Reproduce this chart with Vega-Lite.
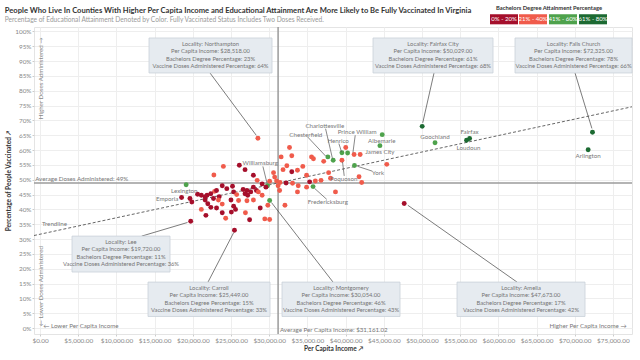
{
  "$schema": "https://vega.github.io/schema/vega-lite/v6.json",
  "width": 598,
  "height": 307,
  "autosize": {"type": "none"},
  "padding": {"left": 34, "top": 27, "right": 8, "bottom": 26},
  "background": "white",
  "title": {
    "text": "People Who Live In Counties With Higher Per Capita Income and Educational Attainment Are More Likely to Be Fully Vaccinated In Virginia",
    "subtitle": "Percentage of Educational Attainment Denoted by Color. Fully Vaccinated Status Includes Two Doses Received.",
    "anchor": "start",
    "dx": -1,
    "offset": -19,
    "font": "Lato",
    "fontSize": 7.6,
    "fontWeight": "bold",
    "color": "#333333",
    "subtitleFont": "Lato",
    "subtitleFontSize": 6.6,
    "subtitleColor": "#999999",
    "subtitlePadding": 2.5
  },
  "config": {
    "view": {"stroke": "#e4e4e4"},
    "axis": {
      "labelFont": "Lato",
      "labelFontSize": 6.4,
      "labelColor": "#888888",
      "labelOverlap": false,
      "gridColor": "#eeeeee",
      "domain": false,
      "tickColor": "#cccccc",
      "tickSize": 2,
      "labelPadding": 1,
      "titleFont": "Lato",
      "titleFontSize": 6.5,
      "titleColor": "#333333",
      "titleFontWeight": "bold"
    },
    "text": {"font": "Lato"},
    "legend": {
      "orient": "none",
      "legendX": 456,
      "legendY": -22,
      "direction": "horizontal",
      "columns": 4,
      "columnPadding": 0,
      "symbolType": "M-1,-0.36H1V0.36H-1Z",
      "symbolSize": 784,
      "symbolStrokeWidth": 0,
      "symbolOpacity": 1,
      "labelOffset": -14,
      "labelAlign": "center",
      "labelColor": "white",
      "labelFont": "Lato",
      "labelFontSize": 6,
      "labelLimit": 0,
      "titleFont": "Lato",
      "titleFontSize": 5.8,
      "titleFontWeight": "bold",
      "titleColor": "#333333",
      "titleAnchor": "middle",
      "titlePadding": -6
    }
  },
  "datasets": {
    "pts": [
      {"loc": "Northampton", "inc": 28518, "vax": 64, "bach": "21% - 40%"},
      {"loc": "Fairfax City", "inc": 50029, "vax": 68, "bach": "61% - 80%"},
      {"loc": "Albemarle", "inc": 44793, "vax": 65.2, "bach": "41% - 60%"},
      {"loc": "", "inc": 32654, "vax": 60.9, "bach": "21% - 40%"},
      {"loc": "", "inc": 40017, "vax": 60.9, "bach": "21% - 40%"},
      {"loc": "James City", "inc": 44494, "vax": 61.5, "bach": "41% - 60%"},
      {"loc": "Goochland", "inc": 51708, "vax": 62.5, "bach": "41% - 60%"},
      {"loc": "Loudoun", "inc": 55837, "vax": 63.3, "bach": "61% - 80%"},
      {"loc": "Fairfax", "inc": 56235, "vax": 63.9, "bach": "61% - 80%"},
      {"loc": "Falls Church", "inc": 72325, "vax": 66, "bach": "61% - 80%"},
      {"loc": "Arlington", "inc": 71757, "vax": 60.1, "bach": "61% - 80%"},
      {"loc": "Henrico", "inc": 39519, "vax": 59.1, "bach": "41% - 60%"},
      {"loc": "", "inc": 40265, "vax": 59.0, "bach": "41% - 60%"},
      {"loc": "Prince William", "inc": 41111, "vax": 58.5, "bach": "21% - 40%"},
      {"loc": "", "inc": 31559, "vax": 57.7, "bach": "21% - 40%"},
      {"loc": "", "inc": 32952, "vax": 58.1, "bach": "21% - 40%"},
      {"loc": "", "inc": 35539, "vax": 57.7, "bach": "21% - 40%"},
      {"loc": "", "inc": 35788, "vax": 57.1, "bach": "21% - 40%"},
      {"loc": "", "inc": 37131, "vax": 56.2, "bach": "21% - 40%"},
      {"loc": "Chesterfield", "inc": 37678, "vax": 57.7, "bach": "41% - 60%"},
      {"loc": "Charlottesville", "inc": 38375, "vax": 56.6, "bach": "41% - 60%"},
      {"loc": "Poquoson", "inc": 39519, "vax": 56.6, "bach": "21% - 40%"},
      {"loc": "", "inc": 41908, "vax": 58.5, "bach": "21% - 40%"},
      {"loc": "", "inc": 45390, "vax": 55.2, "bach": "21% - 40%"},
      {"loc": "York", "inc": 41161, "vax": 54.8, "bach": "41% - 60%"},
      {"loc": "", "inc": 23997, "vax": 54.5, "bach": "21% - 40%"},
      {"loc": "", "inc": 26087, "vax": 54.9, "bach": "0% - 20%"},
      {"loc": "", "inc": 26833, "vax": 53.4, "bach": "0% - 20%"},
      {"loc": "", "inc": 32305, "vax": 54.7, "bach": "21% - 40%"},
      {"loc": "", "inc": 34395, "vax": 54.5, "bach": "21% - 40%"},
      {"loc": "", "inc": 33698, "vax": 53.2, "bach": "21% - 40%"},
      {"loc": "", "inc": 31808, "vax": 53.4, "bach": "21% - 40%"},
      {"loc": "", "inc": 30564, "vax": 52.4, "bach": "21% - 40%"},
      {"loc": "", "inc": 32952, "vax": 52.7, "bach": "0% - 20%"},
      {"loc": "", "inc": 37778, "vax": 52.4, "bach": "21% - 40%"},
      {"loc": "", "inc": 22753, "vax": 51.6, "bach": "21% - 40%"},
      {"loc": "", "inc": 27927, "vax": 51.5, "bach": "0% - 20%"},
      {"loc": "", "inc": 34892, "vax": 51.5, "bach": "21% - 40%"},
      {"loc": "", "inc": 30713, "vax": 50.9, "bach": "21% - 40%"},
      {"loc": "", "inc": 38027, "vax": 50.5, "bach": "21% - 40%"},
      {"loc": "", "inc": 41758, "vax": 51.0, "bach": "21% - 40%"},
      {"loc": "", "inc": 28425, "vax": 49.8, "bach": "21% - 40%"},
      {"loc": "", "inc": 30054, "vax": 49.5, "bach": "21% - 40%"},
      {"loc": "", "inc": 30962, "vax": 49.6, "bach": "21% - 40%"},
      {"loc": "", "inc": 31410, "vax": 49.1, "bach": "21% - 40%"},
      {"loc": "", "inc": 32206, "vax": 48.9, "bach": "0% - 20%"},
      {"loc": "", "inc": 33052, "vax": 48.8, "bach": "21% - 40%"},
      {"loc": "", "inc": 35290, "vax": 49.3, "bach": "0% - 20%"},
      {"loc": "", "inc": 36037, "vax": 49.6, "bach": "21% - 40%"},
      {"loc": "", "inc": 36783, "vax": 49.8, "bach": "21% - 40%"},
      {"loc": "", "inc": 42106, "vax": 49.1, "bach": "21% - 40%"},
      {"loc": "", "inc": 29072, "vax": 48.6, "bach": "0% - 20%"},
      {"loc": "Williamsburg", "inc": 29768, "vax": 48.0, "bach": "41% - 60%"},
      {"loc": "Lexington", "inc": 19121, "vax": 48.3, "bach": "41% - 60%"},
      {"loc": "", "inc": 23848, "vax": 48.0, "bach": "0% - 20%"},
      {"loc": "", "inc": 31161, "vax": 48.0, "bach": "21% - 40%"},
      {"loc": "", "inc": 33798, "vax": 48.0, "bach": "21% - 40%"},
      {"loc": "Fredericksburg", "inc": 35738, "vax": 47.7, "bach": "41% - 60%"},
      {"loc": "", "inc": 34892, "vax": 47.5, "bach": "21% - 40%"},
      {"loc": "", "inc": 29569, "vax": 47.5, "bach": "0% - 20%"},
      {"loc": "", "inc": 27927, "vax": 47.5, "bach": "0% - 20%"},
      {"loc": "", "inc": 25191, "vax": 47.8, "bach": "0% - 20%"},
      {"loc": "", "inc": 24445, "vax": 47.0, "bach": "0% - 20%"},
      {"loc": "", "inc": 26584, "vax": 46.7, "bach": "0% - 20%"},
      {"loc": "", "inc": 27082, "vax": 46.4, "bach": "0% - 20%"},
      {"loc": "", "inc": 28325, "vax": 46.4, "bach": "0% - 20%"},
      {"loc": "", "inc": 22852, "vax": 46.1, "bach": "21% - 40%"},
      {"loc": "", "inc": 23101, "vax": 46.4, "bach": "0% - 20%"},
      {"loc": "", "inc": 33698, "vax": 45.9, "bach": "21% - 40%"},
      {"loc": "", "inc": 31360, "vax": 46.4, "bach": "21% - 40%"},
      {"loc": "", "inc": 38673, "vax": 45.9, "bach": "21% - 40%"},
      {"loc": "", "inc": 25340, "vax": 45.9, "bach": "0% - 20%"},
      {"loc": "", "inc": 27579, "vax": 45.9, "bach": "0% - 20%"},
      {"loc": "", "inc": 28574, "vax": 45.9, "bach": "21% - 40%"},
      {"loc": "", "inc": 20614, "vax": 45.1, "bach": "0% - 20%"},
      {"loc": "", "inc": 21111, "vax": 44.8, "bach": "0% - 20%"},
      {"loc": "", "inc": 21858, "vax": 44.8, "bach": "0% - 20%"},
      {"loc": "", "inc": 22355, "vax": 45.3, "bach": "0% - 20%"},
      {"loc": "", "inc": 21609, "vax": 44.3, "bach": "0% - 20%"},
      {"loc": "", "inc": 25738, "vax": 45.0, "bach": "21% - 40%"},
      {"loc": "", "inc": 26833, "vax": 45.3, "bach": "0% - 20%"},
      {"loc": "", "inc": 27181, "vax": 44.8, "bach": "0% - 20%"},
      {"loc": "", "inc": 29072, "vax": 44.8, "bach": "21% - 40%"},
      {"loc": "", "inc": 23449, "vax": 44.3, "bach": "0% - 20%"},
      {"loc": "", "inc": 19619, "vax": 43.7, "bach": "0% - 20%"},
      {"loc": "Emporia", "inc": 18524, "vax": 44.0, "bach": "0% - 20%"},
      {"loc": "", "inc": 22703, "vax": 43.7, "bach": "0% - 20%"},
      {"loc": "Montgomery", "inc": 30054, "vax": 43, "bach": "41% - 60%"},
      {"loc": "", "inc": 19868, "vax": 42.5, "bach": "0% - 20%"},
      {"loc": "", "inc": 21609, "vax": 43.2, "bach": "0% - 20%"},
      {"loc": "", "inc": 23350, "vax": 43.2, "bach": "21% - 40%"},
      {"loc": "", "inc": 24992, "vax": 43.2, "bach": "0% - 20%"},
      {"loc": "", "inc": 25987, "vax": 43.0, "bach": "21% - 40%"},
      {"loc": "", "inc": 27082, "vax": 42.9, "bach": "21% - 40%"},
      {"loc": "", "inc": 27927, "vax": 43.2, "bach": "21% - 40%"},
      {"loc": "", "inc": 21957, "vax": 41.9, "bach": "0% - 20%"},
      {"loc": "", "inc": 23848, "vax": 41.8, "bach": "21% - 40%"},
      {"loc": "", "inc": 25340, "vax": 41.1, "bach": "0% - 20%"},
      {"loc": "", "inc": 28823, "vax": 40.5, "bach": "0% - 20%"},
      {"loc": "", "inc": 29818, "vax": 41.4, "bach": "21% - 40%"},
      {"loc": "", "inc": 32057, "vax": 41.4, "bach": "21% - 40%"},
      {"loc": "Amelia", "inc": 47673, "vax": 42, "bach": "0% - 20%"},
      {"loc": "", "inc": 21111, "vax": 40.0, "bach": "21% - 40%"},
      {"loc": "", "inc": 22355, "vax": 40.7, "bach": "0% - 20%"},
      {"loc": "", "inc": 23101, "vax": 40.5, "bach": "0% - 20%"},
      {"loc": "", "inc": 25589, "vax": 40.0, "bach": "0% - 20%"},
      {"loc": "", "inc": 26883, "vax": 38.9, "bach": "21% - 40%"},
      {"loc": "", "inc": 25042, "vax": 39.1, "bach": "0% - 20%"},
      {"loc": "", "inc": 23848, "vax": 38.9, "bach": "0% - 20%"},
      {"loc": "", "inc": 21708, "vax": 38.0, "bach": "0% - 20%"},
      {"loc": "", "inc": 24296, "vax": 37.0, "bach": "21% - 40%"},
      {"loc": "", "inc": 27430, "vax": 36.5, "bach": "0% - 20%"},
      {"loc": "", "inc": 29420, "vax": 36.8, "bach": "21% - 40%"},
      {"loc": "", "inc": 30054, "vax": 36.6, "bach": "21% - 40%"},
      {"loc": "Lee", "inc": 19720, "vax": 36, "bach": "0% - 20%"},
      {"loc": "Carroll", "inc": 25449, "vax": 33, "bach": "0% - 20%"}
    ],
    "labels": [
      {"t": "Charlottesville", "inc": 37280, "vax": 68.2},
      {"t": "Chesterfield", "inc": 34793, "vax": 65.2},
      {"t": "Henrico", "inc": 39022, "vax": 63.1},
      {"t": "Prince William", "inc": 41509, "vax": 66.0},
      {"t": "Albemarle", "inc": 44743, "vax": 63.1},
      {"t": "James City", "inc": 44494, "vax": 59.3},
      {"t": "Goochland", "inc": 51708, "vax": 64.4},
      {"t": "Fairfax", "inc": 56235, "vax": 66.1},
      {"t": "Loudoun", "inc": 56086, "vax": 60.6},
      {"t": "Arlington", "inc": 71757, "vax": 57.9},
      {"t": "York", "inc": 44245, "vax": 52.4},
      {"t": "Poquoson", "inc": 39768, "vax": 50.4},
      {"t": "Williamsburg", "inc": 28823, "vax": 55.6},
      {"t": "Lexington", "inc": 18873, "vax": 46.1},
      {"t": "Emporia", "inc": 16634, "vax": 43.5},
      {"t": "Fredericksburg", "inc": 37678, "vax": 42.4}
    ],
    "leaders": [
      {"inc": 37380, "vax": 67.2, "inc2": 38276, "vax2": 57.2},
      {"inc": 35041, "vax": 64.4, "inc2": 37380, "vax2": 58.0},
      {"inc": 39121, "vax": 62.2, "inc2": 39469, "vax2": 59.4},
      {"inc": 41260, "vax": 65.0, "inc2": 40962, "vax2": 59.2},
      {"inc": 43499, "vax": 52.9, "inc2": 41608, "vax2": 54.5},
      {"inc": 39818, "vax": 51.3, "inc2": 39600, "vax2": 56.0},
      {"inc": 29171, "vax": 54.5, "inc2": 29718, "vax2": 48.8},
      {"inc": 37529, "vax": 43.4, "inc2": 35937, "vax2": 47.1}
    ],
    "arrows": [
      {"inc": 22246, "vax": 86.0, "inc2": 28300, "vax2": 65.0},
      {"inc": 51577, "vax": 86.0, "inc2": 50100, "vax2": 69.2},
      {"inc": 70040, "vax": 86.0, "inc2": 72250, "vax2": 67.3},
      {"inc": 13300, "vax": 31.0, "inc2": 19300, "vax2": 35.6},
      {"inc": 21983, "vax": 15.5, "inc2": 25350, "vax2": 32.2},
      {"inc": 38352, "vax": 15.5, "inc2": 30300, "vax2": 42.3},
      {"inc": 62445, "vax": 15.5, "inc2": 48150, "vax2": 41.4}
    ],
    "boxes": [
      {"inc": 14258, "inc2": 30364, "vax": 86.0, "vax2": 97.8, "cx": 22311, "t": "Locality: Northampton\nPer Capita Income: $28,518.00\nBachelors Degree Percentage: 23%\nVaccine Doses Administered Percentage: 64%"},
      {"inc": 43590, "inc2": 59300, "vax": 86.0, "vax2": 97.8, "cx": 51445, "t": "Locality: Fairfax City\nPer Capita Income: $50,029.00\nBachelors Degree Percentage: 61%\nVaccine Doses Administered Percentage: 68%"},
      {"inc": 62184, "inc2": 77500, "vax": 86.0, "vax2": 97.8, "cx": 69842, "t": "Locality: Falls Church\nPer Capita Income: $72,325.00\nBachelors Degree Percentage: 78%\nVaccine Doses Administered Percentage: 66%"},
      {"inc": 4176, "inc2": 17008, "vax": 18.9, "vax2": 31.0, "cx": 10592, "t": "Locality: Lee\nPer Capita Income: $19,720.00\nBachelors Degree Percentage: 11%\nVaccine Doses Administered Percentage: 36%"},
      {"inc": 14127, "inc2": 30102, "vax": 3.9, "vax2": 15.5, "cx": 22115, "t": "Locality: Carroll\nPer Capita Income: $25,449.00\nBachelors Degree Percentage: 15%\nVaccine Doses Administered Percentage: 33%"},
      {"inc": 31674, "inc2": 47125, "vax": 3.9, "vax2": 15.5, "cx": 39400, "t": "Locality: Montgomery\nPer Capita Income: $30,054.00\nBachelors Degree Percentage: 46%\nVaccine Doses Administered Percentage: 43%"},
      {"inc": 54588, "inc2": 71348, "vax": 3.9, "vax2": 15.5, "cx": 62968, "t": "Locality: Amelia\nPer Capita Income: $47,673.00\nBachelors Degree Percentage: 17%\nVaccine Doses Administered Percentage: 42%"}
    ],
    "trend": [
      {"inc": -800, "vax": 31.2},
      {"inc": 77500, "vax": 74.6}
    ],
    "avgVax": [{"vax": 48.9}],
    "avgInc": [{"inc": 31161.02}],
    "notesLeft": [
      {"t": "Average Per Capita Income: $31,161.02", "inc": 31400, "vax": -0.8},
      {"t": "\u2190 Lower Per Capita Income", "inc": 400, "vax": 0.7},
      {"t": "Trendline", "inc": 250, "vax": 35.2}
    ],
    "notesAvg": [
      {"t": "Average Doses Administered: 49%", "inc": -650, "vax": 49.4}
    ],
    "notesRight": [
      {"t": "Higher Per Capita Income \u2192", "inc": 76800, "vax": 0.7}
    ],
    "rotTop": [
      {"t": "Higher Doses Administered \u2192", "inc": 150, "vax": 98}
    ],
    "rotBottom": [
      {"t": "\u2190 Lower Doses Administered", "inc": 150, "vax": 0.6}
    ]
  },
  "layer": [
    {
      "data": {"name": "avgVax"},
      "mark": {"type": "rule", "color": "#9b9b9b", "strokeWidth": 1.5},
      "encoding": {
        "y": {
          "field": "vax", "type": "quantitative",
          "scale": {"domain": [-2, 101.5], "nice": false, "zero": false},
          "title": "Percentage of People Vaccinated \u2197",
          "axis": {"values": [0,5,10,15,20,25,30,35,40,45,50,55,60,65,70,75,80,85,90,95,100], "labelExpr": "datum.value + '%'", "grid": true, "titlePadding": 3, "labelOverlap": false}
        }
      }
    },
    {
      "data": {"name": "avgInc"},
      "mark": {"type": "rule", "color": "#9b9b9b", "strokeWidth": 1.5},
      "encoding": {
        "x": {
          "field": "inc", "type": "quantitative",
          "scale": {"domain": [-800, 77500], "nice": false, "zero": false},
          "title": "Per Capita Income \u2197",
          "axis": {"values": [0,5000,10000,15000,20000,25000,30000,35000,40000,45000,50000,55000,60000,65000,70000,75000], "format": "$,.2f", "grid": true, "titlePadding": 2, "labelOverlap": false}
        }
      }
    },
    {
      "data": {"name": "trend"},
      "mark": {"type": "line", "color": "#555555", "strokeWidth": 0.9, "strokeDash": [3, 2]},
      "encoding": {
        "x": {"field": "inc", "type": "quantitative", "scale": {"domain": [-800, 77500], "nice": false, "zero": false}, "title": "Per Capita Income \u2197", "axis": {"values": [0,5000,10000,15000,20000,25000,30000,35000,40000,45000,50000,55000,60000,65000,70000,75000], "format": "$,.2f", "grid": true, "titlePadding": 2, "labelOverlap": false}},
        "y": {"field": "vax", "type": "quantitative", "scale": {"domain": [-2, 101.5], "nice": false, "zero": false}, "title": "Percentage of People Vaccinated \u2197", "axis": {"values": [0,5,10,15,20,25,30,35,40,45,50,55,60,65,70,75,80,85,90,95,100], "labelExpr": "datum.value + '%'", "grid": true, "titlePadding": 3, "labelOverlap": false}}
      }
    },
    {
      "data": {"name": "pts"},
      "mark": {"type": "circle", "size": 24, "opacity": 1},
      "encoding": {
        "x": {"field": "inc", "type": "quantitative", "scale": {"domain": [-800, 77500], "nice": false, "zero": false}, "title": "Per Capita Income \u2197", "axis": {"values": [0,5000,10000,15000,20000,25000,30000,35000,40000,45000,50000,55000,60000,65000,70000,75000], "format": "$,.2f", "grid": true, "titlePadding": 2, "labelOverlap": false}},
        "y": {"field": "vax", "type": "quantitative", "scale": {"domain": [-2, 101.5], "nice": false, "zero": false}, "title": "Percentage of People Vaccinated \u2197", "axis": {"values": [0,5,10,15,20,25,30,35,40,45,50,55,60,65,70,75,80,85,90,95,100], "labelExpr": "datum.value + '%'", "grid": true, "titlePadding": 3, "labelOverlap": false}},
        "color": {
          "field": "bach", "type": "nominal",
          "title": "Bachelors Degree Attainment Percentage",
          "scale": {
            "domain": ["0% - 20%", "21% - 40%", "41% - 60%", "61% - 80%"],
            "range": ["#a50f2b", "#f05b4b", "#4ea24c", "#1c6a32"]
          }
        }
      }
    },
    {
      "data": {"name": "leaders"},
      "mark": {"type": "rule", "color": "#555555", "strokeWidth": 0.7},
      "encoding": {
        "x": {"field": "inc", "type": "quantitative", "scale": {"domain": [-800, 77500], "nice": false, "zero": false}, "title": "Per Capita Income \u2197", "axis": {"values": [0,5000,10000,15000,20000,25000,30000,35000,40000,45000,50000,55000,60000,65000,70000,75000], "format": "$,.2f", "grid": true, "titlePadding": 2, "labelOverlap": false}},
        "y": {"field": "vax", "type": "quantitative", "scale": {"domain": [-2, 101.5], "nice": false, "zero": false}, "title": "Percentage of People Vaccinated \u2197", "axis": {"values": [0,5,10,15,20,25,30,35,40,45,50,55,60,65,70,75,80,85,90,95,100], "labelExpr": "datum.value + '%'", "grid": true, "titlePadding": 3, "labelOverlap": false}},
        "x2": {"field": "inc2"},
        "y2": {"field": "vax2"}
      }
    },
    {
      "data": {"name": "arrows"},
      "mark": {"type": "rule", "color": "#444444", "strokeWidth": 0.7},
      "encoding": {
        "x": {"field": "inc", "type": "quantitative", "scale": {"domain": [-800, 77500], "nice": false, "zero": false}, "title": "Per Capita Income \u2197", "axis": {"values": [0,5000,10000,15000,20000,25000,30000,35000,40000,45000,50000,55000,60000,65000,70000,75000], "format": "$,.2f", "grid": true, "titlePadding": 2, "labelOverlap": false}},
        "y": {"field": "vax", "type": "quantitative", "scale": {"domain": [-2, 101.5], "nice": false, "zero": false}, "title": "Percentage of People Vaccinated \u2197", "axis": {"values": [0,5,10,15,20,25,30,35,40,45,50,55,60,65,70,75,80,85,90,95,100], "labelExpr": "datum.value + '%'", "grid": true, "titlePadding": 3, "labelOverlap": false}},
        "x2": {"field": "inc2"},
        "y2": {"field": "vax2"}
      }
    },
    {
      "data": {"name": "boxes"},
      "mark": {"type": "rect", "fill": "#e6ebf0", "stroke": "#c9d1d9", "strokeWidth": 0.8},
      "encoding": {
        "x": {"field": "inc", "type": "quantitative", "scale": {"domain": [-800, 77500], "nice": false, "zero": false}, "title": "Per Capita Income \u2197", "axis": {"values": [0,5000,10000,15000,20000,25000,30000,35000,40000,45000,50000,55000,60000,65000,70000,75000], "format": "$,.2f", "grid": true, "titlePadding": 2, "labelOverlap": false}},
        "y": {"field": "vax", "type": "quantitative", "scale": {"domain": [-2, 101.5], "nice": false, "zero": false}, "title": "Percentage of People Vaccinated \u2197", "axis": {"values": [0,5,10,15,20,25,30,35,40,45,50,55,60,65,70,75,80,85,90,95,100], "labelExpr": "datum.value + '%'", "grid": true, "titlePadding": 3, "labelOverlap": false}},
        "x2": {"field": "inc2"},
        "y2": {"field": "vax2"}
      }
    },
    {
      "data": {"name": "boxes"},
      "mark": {"type": "text", "fontSize": 5.8, "color": "#747474", "lineBreak": "\n", "lineHeight": 7.4, "align": "center", "baseline": "middle", "dy": 5.8},
      "encoding": {
        "x": {"field": "cx", "type": "quantitative", "scale": {"domain": [-800, 77500], "nice": false, "zero": false}, "title": "Per Capita Income \u2197", "axis": {"values": [0,5000,10000,15000,20000,25000,30000,35000,40000,45000,50000,55000,60000,65000,70000,75000], "format": "$,.2f", "grid": true, "titlePadding": 2, "labelOverlap": false}},
        "y": {"field": "vax2", "type": "quantitative", "scale": {"domain": [-2, 101.5], "nice": false, "zero": false}, "title": "Percentage of People Vaccinated \u2197", "axis": {"values": [0,5,10,15,20,25,30,35,40,45,50,55,60,65,70,75,80,85,90,95,100], "labelExpr": "datum.value + '%'", "grid": true, "titlePadding": 3, "labelOverlap": false}},
        "text": {"field": "t"}
      }
    },
    {
      "data": {"name": "labels"},
      "mark": {"type": "text", "fontSize": 6.2, "color": "#777777", "align": "center", "baseline": "middle"},
      "encoding": {
        "x": {"field": "inc", "type": "quantitative", "scale": {"domain": [-800, 77500], "nice": false, "zero": false}, "title": "Per Capita Income \u2197", "axis": {"values": [0,5000,10000,15000,20000,25000,30000,35000,40000,45000,50000,55000,60000,65000,70000,75000], "format": "$,.2f", "grid": true, "titlePadding": 2, "labelOverlap": false}},
        "y": {"field": "vax", "type": "quantitative", "scale": {"domain": [-2, 101.5], "nice": false, "zero": false}, "title": "Percentage of People Vaccinated \u2197", "axis": {"values": [0,5,10,15,20,25,30,35,40,45,50,55,60,65,70,75,80,85,90,95,100], "labelExpr": "datum.value + '%'", "grid": true, "titlePadding": 3, "labelOverlap": false}},
        "text": {"field": "t"}
      }
    },
    {
      "data": {"name": "notesLeft"},
      "mark": {"type": "text", "fontSize": 6.2, "color": "#777777", "align": "left", "baseline": "middle"},
      "encoding": {
        "x": {"field": "inc", "type": "quantitative", "scale": {"domain": [-800, 77500], "nice": false, "zero": false}, "title": "Per Capita Income \u2197", "axis": {"values": [0,5000,10000,15000,20000,25000,30000,35000,40000,45000,50000,55000,60000,65000,70000,75000], "format": "$,.2f", "grid": true, "titlePadding": 2, "labelOverlap": false}},
        "y": {"field": "vax", "type": "quantitative", "scale": {"domain": [-2, 101.5], "nice": false, "zero": false}, "title": "Percentage of People Vaccinated \u2197", "axis": {"values": [0,5,10,15,20,25,30,35,40,45,50,55,60,65,70,75,80,85,90,95,100], "labelExpr": "datum.value + '%'", "grid": true, "titlePadding": 3, "labelOverlap": false}},
        "text": {"field": "t"}
      }
    },
    {
      "data": {"name": "notesAvg"},
      "mark": {"type": "text", "fontSize": 6.2, "color": "#777777", "align": "left", "baseline": "bottom"},
      "encoding": {
        "x": {"field": "inc", "type": "quantitative", "scale": {"domain": [-800, 77500], "nice": false, "zero": false}, "title": "Per Capita Income \u2197", "axis": {"values": [0,5000,10000,15000,20000,25000,30000,35000,40000,45000,50000,55000,60000,65000,70000,75000], "format": "$,.2f", "grid": true, "titlePadding": 2, "labelOverlap": false}},
        "y": {"field": "vax", "type": "quantitative", "scale": {"domain": [-2, 101.5], "nice": false, "zero": false}, "title": "Percentage of People Vaccinated \u2197", "axis": {"values": [0,5,10,15,20,25,30,35,40,45,50,55,60,65,70,75,80,85,90,95,100], "labelExpr": "datum.value + '%'", "grid": true, "titlePadding": 3, "labelOverlap": false}},
        "text": {"field": "t"}
      }
    },
    {
      "data": {"name": "notesRight"},
      "mark": {"type": "text", "fontSize": 6.2, "color": "#777777", "align": "right", "baseline": "middle"},
      "encoding": {
        "x": {"field": "inc", "type": "quantitative", "scale": {"domain": [-800, 77500], "nice": false, "zero": false}, "title": "Per Capita Income \u2197", "axis": {"values": [0,5000,10000,15000,20000,25000,30000,35000,40000,45000,50000,55000,60000,65000,70000,75000], "format": "$,.2f", "grid": true, "titlePadding": 2, "labelOverlap": false}},
        "y": {"field": "vax", "type": "quantitative", "scale": {"domain": [-2, 101.5], "nice": false, "zero": false}, "title": "Percentage of People Vaccinated \u2197", "axis": {"values": [0,5,10,15,20,25,30,35,40,45,50,55,60,65,70,75,80,85,90,95,100], "labelExpr": "datum.value + '%'", "grid": true, "titlePadding": 3, "labelOverlap": false}},
        "text": {"field": "t"}
      }
    },
    {
      "data": {"name": "rotTop"},
      "mark": {"type": "text", "fontSize": 6.2, "color": "#888888", "align": "right", "baseline": "middle", "angle": 270},
      "encoding": {
        "x": {"field": "inc", "type": "quantitative", "scale": {"domain": [-800, 77500], "nice": false, "zero": false}, "title": "Per Capita Income \u2197", "axis": {"values": [0,5000,10000,15000,20000,25000,30000,35000,40000,45000,50000,55000,60000,65000,70000,75000], "format": "$,.2f", "grid": true, "titlePadding": 2, "labelOverlap": false}},
        "y": {"field": "vax", "type": "quantitative", "scale": {"domain": [-2, 101.5], "nice": false, "zero": false}, "title": "Percentage of People Vaccinated \u2197", "axis": {"values": [0,5,10,15,20,25,30,35,40,45,50,55,60,65,70,75,80,85,90,95,100], "labelExpr": "datum.value + '%'", "grid": true, "titlePadding": 3, "labelOverlap": false}},
        "text": {"field": "t"}
      }
    },
    {
      "data": {"name": "rotBottom"},
      "mark": {"type": "text", "fontSize": 6.2, "color": "#888888", "align": "left", "baseline": "middle", "angle": 270},
      "encoding": {
        "x": {"field": "inc", "type": "quantitative", "scale": {"domain": [-800, 77500], "nice": false, "zero": false}, "title": "Per Capita Income \u2197", "axis": {"values": [0,5000,10000,15000,20000,25000,30000,35000,40000,45000,50000,55000,60000,65000,70000,75000], "format": "$,.2f", "grid": true, "titlePadding": 2, "labelOverlap": false}},
        "y": {"field": "vax", "type": "quantitative", "scale": {"domain": [-2, 101.5], "nice": false, "zero": false}, "title": "Percentage of People Vaccinated \u2197", "axis": {"values": [0,5,10,15,20,25,30,35,40,45,50,55,60,65,70,75,80,85,90,95,100], "labelExpr": "datum.value + '%'", "grid": true, "titlePadding": 3, "labelOverlap": false}},
        "text": {"field": "t"}
      }
    }
  ]
}
